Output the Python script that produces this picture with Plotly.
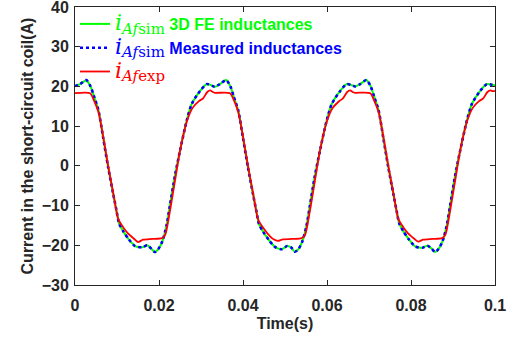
import plotly.graph_objects as go

# ---- data ----
t_sim = [0, 0.0012, 0.0027, 0.0037, 0.0045, 0.0056, 0.0067, 0.0079, 0.0091, 0.0099, 0.0105, 0.0115,
         0.0128, 0.0143, 0.016, 0.0172, 0.0182, 0.019, 0.0198, 0.0208, 0.0218, 0.0226, 0.0238, 0.025,
         0.0266, 0.0278, 0.0298, 0.0314, 0.0326,
         0.0333, 0.0345, 0.0360, 0.0370, 0.0378, 0.0389, 0.0400, 0.0412, 0.0424, 0.0432, 0.0438, 0.0448,
         0.0461, 0.0476, 0.0493, 0.0505, 0.0515, 0.0523, 0.0531, 0.0541, 0.0551, 0.0559, 0.0571, 0.0583,
         0.0599, 0.0611, 0.0631, 0.0647, 0.0659,
         0.0667, 0.0679, 0.0694, 0.0704, 0.0712, 0.0723, 0.0734, 0.0746, 0.0758, 0.0766, 0.0772, 0.0782,
         0.0795, 0.0810, 0.0827, 0.0839, 0.0849, 0.0857, 0.0865, 0.0875, 0.0885, 0.0893, 0.0905, 0.0917,
         0.0933, 0.0945, 0.0965, 0.0981, 0.0993, 0.1000]

i_fe = [20.1, 20.6, 21.5, 20.0, 17.6, 13.9, 7.1, -0.4, -7.1, -11.4, -14.5, -16.5,
        -18.5, -20.2, -20.5, -20.0, -20.9, -21.7, -21.0, -19.0, -15.0, -10.0, -2.5, 3.8,
        11.4, 15.6, 18.9, 20.6, 20.2,
        19.9, 20.6, 21.6, 20.0, 17.4, 13.8, 7.0, -0.5, -7.2, -11.5, -14.6, -16.6,
        -18.6, -20.4, -21.0, -20.2, -20.6, -21.6, -21.1, -19.1, -15.2, -10.2, -2.6, 3.7,
        11.3, 15.5, 18.8, 20.6, 20.3,
        20.0, 20.6, 21.6, 20.0, 17.5, 13.9, 7.1, -0.4, -7.1, -11.4, -14.5, -16.5,
        -18.5, -20.3, -20.6, -20.1, -20.8, -21.7, -21.0, -19.0, -15.1, -10.1, -2.5, 3.8,
        11.4, 15.6, 18.9, 20.6, 20.4, 20.3]

i_meas = [20.1, 20.6, 21.6, 20.0, 17.6, 13.9, 7.1, -0.4, -7.1, -11.4, -14.5, -16.5,
          -18.5, -20.2, -20.5, -20.0, -20.9, -21.7, -21.0, -19.0, -15.0, -10.0, -2.5, 3.8,
          11.4, 15.6, 18.9, 20.6, 20.2,
          19.9, 20.6, 21.6, 20.0, 17.4, 13.8, 7.0, -0.5, -7.2, -11.5, -14.6, -16.6,
          -18.6, -20.4, -21.0, -20.2, -20.6, -21.6, -21.1, -19.1, -15.2, -10.2, -2.6, 3.7,
          11.3, 15.5, 18.8, 20.6, 20.3,
          20.0, 20.6, 21.6, 20.0, 17.5, 13.9, 7.1, -0.4, -7.1, -11.4, -14.5, -16.5,
          -18.5, -20.3, -20.6, -20.1, -20.8, -21.7, -21.0, -19.0, -15.1, -10.1, -2.5, 3.8,
          11.4, 15.6, 18.9, 20.6, 20.4, 20.3]

t_exp = [0, 0.0036, 0.0045, 0.0056, 0.0067, 0.0079, 0.0091, 0.0103, 0.0115, 0.0126, 0.014, 0.015,
         0.0162, 0.0184, 0.0207, 0.0215, 0.0225, 0.0238, 0.025, 0.0267, 0.028, 0.0295, 0.0305,
         0.0315, 0.0322, 0.0328,
         0.0333, 0.0369, 0.0378, 0.0389, 0.0400, 0.0412, 0.0424, 0.0436, 0.0448, 0.0459, 0.0473, 0.0483,
         0.0495, 0.0517, 0.0540, 0.0548, 0.0558, 0.0571, 0.0583, 0.0600, 0.0613, 0.0628, 0.0638,
         0.0648, 0.0655, 0.0661,
         0.0667, 0.0703, 0.0712, 0.0723, 0.0734, 0.0746, 0.0758, 0.0770, 0.0782, 0.0793, 0.0807, 0.0817,
         0.0829, 0.0851, 0.0874, 0.0882, 0.0892, 0.0905, 0.0917, 0.0934, 0.0947, 0.0962, 0.0972,
         0.0982, 0.0989, 0.0995, 0.1000]

i_exp = [18.3, 18.3, 16.5, 13.5, 7.5, 0.0, -6.8, -13.4, -15.5, -17.0, -18.3, -19.2,
         -18.6, -18.4, -18.2, -17.3, -12.0, -3.8, 3.8, 11.4, 14.6, 16.3, 17.0,
         18.6, 19.0, 18.6,
         18.4, 18.3, 16.6, 13.4, 7.4, -0.1, -6.9, -13.5, -15.6, -17.1, -18.5, -18.9,
         -18.5, -18.4, -18.2, -17.3, -12.1, -3.9, 3.7, 11.3, 14.5, 16.2, 17.0,
         18.6, 19.0, 18.6,
         18.4, 18.3, 16.5, 13.5, 7.5, 0.0, -6.8, -13.4, -15.5, -17.0, -18.3, -19.1,
         -18.6, -18.4, -18.2, -17.3, -12.0, -3.8, 3.8, 11.4, 14.6, 16.3, 17.0,
         18.6, 19.0, 18.8, 18.9]

x_ticks = [0, 0.02, 0.04, 0.06, 0.08, 0.1]
x_labels = ["0", "0.02", "0.04", "0.06", "0.08", "0.1"]
y_ticks = [-30, -20, -10, 0, 10, 20, 30, 40]

names = [
    ("#00ff00", "3D FE inductances", "sim"),
    ("#0000ff", "Measured inductances", "sim"),
    ("#ff0000", "", "exp"),
]


def leg(color, label, sub):
    s = (f'<span style="color:{color}">'
         f'<span style="font-family:\'DejaVu Serif\';font-size:22px;font-style:italic"><i>i</i></span>'
         f'<sub><span style="font-family:\'DejaVu Serif\';font-size:15px"><i>Af</i>{sub}</span></sub>')
    if label:
        s += f' <b>{label}</b>'
    s += '</span>'
    return s


fig = go.Figure()
fig.add_trace(go.Scatter(x=t_sim, y=i_fe, mode="lines", name=leg(*names[0]),
                         line=dict(color="#00ff00", width=2.0, shape="spline", smoothing=0.7)))
fig.add_trace(go.Scatter(x=t_sim, y=i_meas, mode="lines", name=leg(*names[1]),
                         line=dict(color="#0000ff", width=2.6, dash="dot", shape="spline", smoothing=0.7)))
fig.add_trace(go.Scatter(x=t_exp, y=i_exp, mode="lines", name=leg(*names[2]),
                         line=dict(color="#ff0000", width=1.8, shape="spline", smoothing=0.7)))

axis_common = dict(showline=True, mirror="ticks", linecolor="#262626", linewidth=1,
                   ticks="inside", ticklen=5, tickcolor="#262626", showgrid=False, zeroline=False,
                   ticklabeloverflow="allow", automargin=False,
                   tickfont=dict(family="Liberation Sans", size=16, color="#262626", weight="bold"))

fig.update_layout(
    width=520, height=339,
    margin=dict(l=75, r=25, t=7, b=54, autoexpand=False),
    paper_bgcolor="white", plot_bgcolor="white",
    showlegend=True,
    legend=dict(x=0, y=1.0, xanchor="left", yanchor="top", bgcolor="rgba(0,0,0,0)",
                font=dict(family="Liberation Sans", size=16), tracegroupgap=0,
                itemwidth=30),
    xaxis=dict(range=[0, 0.1], tickvals=x_ticks, ticktext=x_labels, ticklabelstandoff=6,
               title=dict(text="<b>Time(s)</b>", standoff=4,
                          font=dict(family="Liberation Sans", size=16, color="#262626")),
               **axis_common),
    yaxis=dict(range=[-30, 40], tickvals=y_ticks, ticklabelstandoff=2,
               title=dict(text="<b>Current in the short-circuit coil(A)</b>", standoff=4,
                          font=dict(family="Liberation Sans", size=16, color="#262626")),
               **axis_common),
)

fig.write_html("out.html")
